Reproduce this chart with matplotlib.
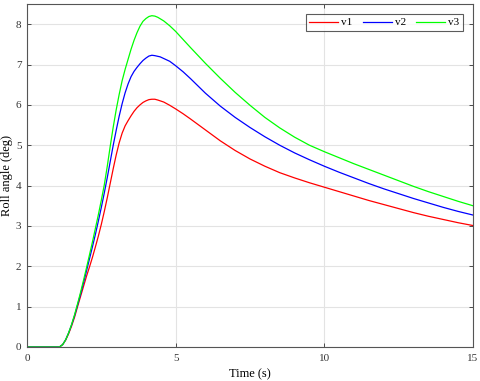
import matplotlib
matplotlib.use("Agg")
import matplotlib.pyplot as plt

plt.rcParams['font.family'] = ['Liberation Serif', 'DejaVu Serif']

# Series data (time in s, roll angle in deg)
t_v1 = [0, 1.09, 1.2, 1.3, 1.4, 1.5, 1.6, 1.7, 1.8, 1.9, 2.0, 2.1, 2.2, 2.3, 2.4, 2.5,
        2.6, 2.7, 2.8, 2.9, 3.0, 3.1, 3.2, 3.3, 3.4, 3.5, 3.6, 3.7, 3.8, 3.9, 4.0,
        4.1, 4.2, 4.3, 4.4, 4.6, 4.8, 5.0, 5.25, 5.5, 6.0, 6.5, 7.0, 7.5, 8.0, 8.5,
        9.0, 9.5, 10, 10.5, 11, 11.5, 12, 12.5, 13, 13.5, 14, 14.5, 15]
v1 = [0, 0, 0.06, 0.17, 0.33, 0.52, 0.74, 1.0, 1.25, 1.5, 1.75, 1.98, 2.22, 2.48, 2.75, 3.04,
      3.36, 3.7, 4.06, 4.42, 4.76, 5.06, 5.3, 5.48, 5.61, 5.73, 5.84, 5.93, 6.0, 6.06, 6.1,
      6.13, 6.14, 6.14, 6.12, 6.07, 5.99, 5.9, 5.78, 5.65, 5.38, 5.11, 4.87, 4.66, 4.48, 4.32,
      4.19, 4.07, 3.96, 3.85, 3.74, 3.63, 3.53, 3.43, 3.33, 3.24, 3.16, 3.08, 3.01]

t_v2 = [0, 1.09, 1.2, 1.3, 1.4, 1.5, 1.6, 1.7, 1.8, 1.9, 2.0, 2.1, 2.2, 2.3, 2.4, 2.5,
        2.6, 2.7, 2.8, 2.9, 3.0, 3.1, 3.2, 3.3, 3.4, 3.5, 3.6, 3.7, 3.8, 3.9, 4.0,
        4.1, 4.2, 4.3, 4.48, 4.8, 5.0, 5.25, 5.5, 5.75, 6.0, 6.5, 7.0, 7.5, 8.0, 8.5,
        9.0, 9.5, 10, 10.5, 11, 11.5, 12, 12.5, 13, 13.5, 14, 14.5, 15]
v2 = [0, 0, 0.06, 0.18, 0.35, 0.55, 0.78, 1.04, 1.31, 1.59, 1.88, 2.18, 2.48, 2.79, 3.12, 3.46,
      3.82, 4.2, 4.6, 5.0, 5.37, 5.72, 6.03, 6.3, 6.52, 6.7, 6.83, 6.93, 7.02, 7.1, 7.16,
      7.21, 7.23, 7.22, 7.19, 7.08, 6.97, 6.82, 6.65, 6.47, 6.29, 5.97, 5.69, 5.44, 5.21, 5.0,
      4.81, 4.64, 4.48, 4.33, 4.19, 4.05, 3.92, 3.8, 3.68, 3.57, 3.46, 3.36, 3.27]

t_v3 = [0, 1.09, 1.2, 1.3, 1.4, 1.5, 1.6, 1.7, 1.8, 1.9, 2.0, 2.1, 2.2, 2.3, 2.4, 2.5,
        2.6, 2.7, 2.8, 2.9, 3.0, 3.1, 3.2, 3.3, 3.4, 3.5, 3.6, 3.7, 3.8, 3.9, 4.0,
        4.1, 4.2, 4.3, 4.4, 4.6, 4.8, 5.0, 5.5, 6.0, 6.5, 7.0, 7.5, 8.0, 8.5,
        9.0, 9.5, 10, 10.5, 11, 11.5, 12, 12.5, 13, 13.5, 14, 14.5, 15]
v3 = [0, 0, 0.06, 0.18, 0.35, 0.56, 0.8, 1.07, 1.35, 1.65, 1.96, 2.28, 2.6, 2.94, 3.28, 3.64,
      4.02, 4.48, 4.98, 5.45, 5.88, 6.26, 6.6, 6.88, 7.13, 7.38, 7.6, 7.79, 7.95, 8.07, 8.14,
      8.19, 8.21, 8.2, 8.17, 8.08, 7.96, 7.82, 7.42, 7.03, 6.66, 6.31, 5.99, 5.69, 5.43,
      5.2, 5.0, 4.84, 4.69, 4.54, 4.4, 4.26, 4.12, 3.98, 3.85, 3.73, 3.61, 3.5]

labels = ['v1', 'v2', 'v3']
x_ticks = [0, 5, 10, 15]
y_ticks = [0, 1, 2, 3, 4, 5, 6, 7, 8]

fig = plt.figure(figsize=(4.8, 3.81), dpi=100)
ax = fig.add_axes([27/480, 1-347/381, 446/480, 343/381])

ax.plot(t_v1, v1, color='#ff0000', lw=0.9, label=labels[0])
ax.plot(t_v2, v2, color='#0000ff', lw=0.9, label=labels[1])
ax.plot(t_v3, v3, color='#00ff00', lw=0.9, label=labels[2])

ax.set_xlim(0, 15)
ax.set_ylim(0, 8.5)
ax.set_xticks(x_ticks)
ax.set_yticks(y_ticks)
ax.grid(True, color='#e3e3e3', lw=0.8)
ax.set_axisbelow(True)
ax.tick_params(direction='in', top=True, right=True, length=3, width=0.6,
               colors='#333333', labelsize=8)
ax.tick_params(axis='x', pad=5)
ax.tick_params(axis='y', pad=4)
for s in ax.spines.values():
    s.set_color('#555555')
    s.set_linewidth(0.8)

ax.set_xlabel('Time (s)', fontsize=9, labelpad=4)
ax.set_ylabel('Roll angle (deg)', fontsize=9, labelpad=2)

leg = ax.legend(ncol=3, loc='upper right', bbox_to_anchor=(0.977, 0.97),
                fontsize=8, frameon=True, fancybox=False, handlelength=2.6,
                handletextpad=0.3, columnspacing=0.9, borderpad=0.3,
                borderaxespad=0)
leg.get_frame().set_edgecolor('#333333')
leg.get_frame().set_linewidth(0.8)

fig.savefig('out.png', dpi=100)
